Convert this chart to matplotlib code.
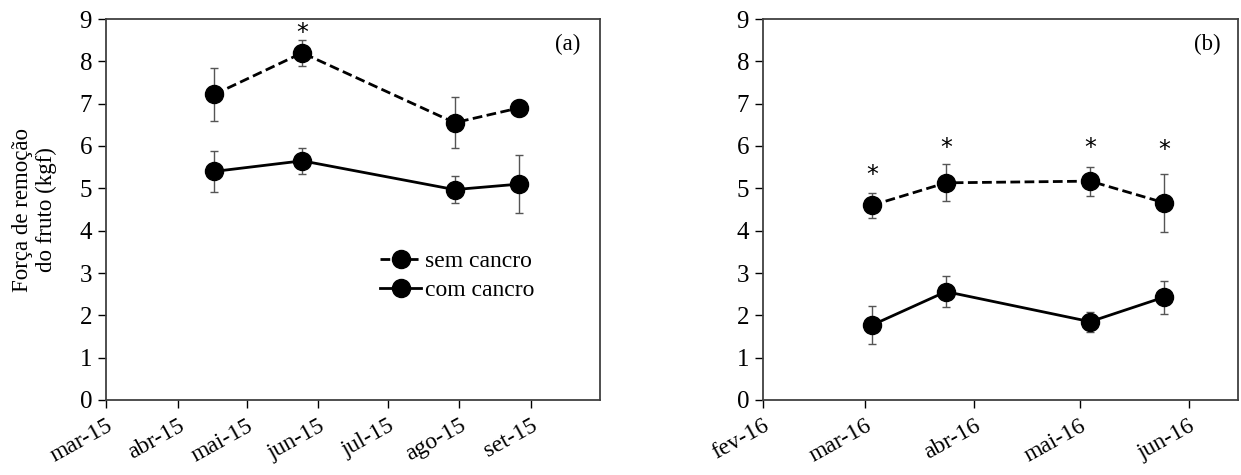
import matplotlib
matplotlib.use("Agg")
import matplotlib.pyplot as plt
import numpy as np
from datetime import datetime

plt.rcParams['font.family'] = ['Liberation Serif', 'DejaVu Serif']

# ---- data ----
dates_a = ['2015-04-17', '2015-05-25', '2015-07-30', '2015-08-27']
sem_a = [7.22, 8.20, 6.55, 6.90]
sem_a_err = [0.62, 0.30, 0.60, 0.19]
com_a = [5.40, 5.65, 4.97, 5.10]
com_a_err = [0.48, 0.31, 0.31, 0.69]
stars_a_dates = ['2015-05-25']
stars_a_y = [8.68]
ticks_a = ['2015-03-01', '2015-04-01', '2015-05-01', '2015-06-01',
           '2015-07-01', '2015-08-01', '2015-09-01']
ticklabels_a = ['mar-15', 'abr-15', 'mai-15', 'jun-15', 'jul-15', 'ago-15', 'set-15']
xlim_a = ['2015-03-01', '2015-10-01']

dates_b = ['2016-03-03', '2016-03-24', '2016-05-04', '2016-05-25']
sem_b = [4.60, 5.13, 5.17, 4.66]
sem_b_err = [0.30, 0.44, 0.34, 0.68]
com_b = [1.77, 2.56, 1.85, 2.43]
com_b_err = [0.45, 0.36, 0.24, 0.39]
stars_b_dates = ['2016-03-03', '2016-03-24', '2016-05-04', '2016-05-25']
stars_b_y = [5.32, 5.95, 5.95, 5.90]
ticks_b = ['2016-02-01', '2016-03-01', '2016-04-01', '2016-05-01', '2016-06-01']
ticklabels_b = ['fev-16', 'mar-16', 'abr-16', 'mai-16', 'jun-16']
xlim_b = ['2016-02-01', '2016-06-15']

label_sem = 'sem cancro'
label_com = 'com cancro'
ylabel = 'Força de remoção\ndo fruto (kgf)'


def d(lst):
    return [datetime.strptime(s, '%Y-%m-%d') for s in lst]


fig = plt.figure(figsize=(12.41, 4.75), dpi=100)
axA = fig.add_axes([106/1241, 75/475, 494/1241, 381/475])
axB = fig.add_axes([763/1241, 75/475, 475/1241, 381/475])

spine_col = '#404040'
err_col = '#555555'


def draw(ax, dates, sem, sem_err, com, com_err, sdates, sy, ticks, tlabels, xlim, tag):
    x = d(dates)
    ax.errorbar(x, sem, yerr=sem_err, fmt='none', ecolor=err_col, elinewidth=1.0,
                capsize=3.2, capthick=1.0, zorder=2)
    ax.errorbar(x, com, yerr=com_err, fmt='none', ecolor=err_col, elinewidth=1.0,
                capsize=3.2, capthick=1.0, zorder=2)
    l1, = ax.plot(x, sem, linestyle=(0, (3.5, 1.6)), color='black', linewidth=2.0,
                  marker='o', markersize=13, markerfacecolor='black',
                  markeredgecolor='black', label=label_sem, zorder=3)
    l2, = ax.plot(x, com, linestyle='-', color='black', linewidth=2.0,
                  marker='o', markersize=13, markerfacecolor='black',
                  markeredgecolor='black', label=label_com, zorder=3)
    for sd, yy in zip(d(sdates), sy):
        ax.text(sd, yy, '*', ha='center', va='center', fontsize=17,
                fontfamily='DejaVu Sans')
    ax.set_ylim(0, 9)
    ax.set_yticks(np.arange(0, 10, 1))
    ax.set_xlim(d(xlim))
    ax.set_xticks(d(ticks))
    ax.set_xticklabels(tlabels, rotation=29, ha='right', rotation_mode='anchor')
    ax.tick_params(axis='y', direction='out', length=6, width=1.0, labelsize=18,
                   colors='black', pad=4)
    ax.tick_params(axis='x', direction='out', length=6, width=1.0, labelsize=17,
                   colors='black', pad=5)
    for s in ax.spines.values():
        s.set_color(spine_col)
        s.set_linewidth(1.3)
    ax.text(0.935, 0.932, tag, transform=ax.transAxes, ha='center', va='center',
            fontsize=16.5)
    return l1, l2


l1, l2 = draw(axA, dates_a, sem_a, sem_a_err, com_a, com_a_err, stars_a_dates, stars_a_y,
              ticks_a, ticklabels_a, xlim_a, '(a)')
draw(axB, dates_b, sem_b, sem_b_err, com_b, com_b_err, stars_b_dates, stars_b_y,
     ticks_b, ticklabels_b, xlim_b, '(b)')

axA.set_ylabel(ylabel, fontsize=16.5, labelpad=16, linespacing=1.2)

axA.legend(handles=[l1, l2], loc='upper left', bbox_to_anchor=(0.555, 0.392),
           frameon=False, fontsize=17, handlelength=1.75, handletextpad=0.15,
           labelspacing=0.3, borderaxespad=0, borderpad=0)

fig.savefig('out.png', dpi=100)
